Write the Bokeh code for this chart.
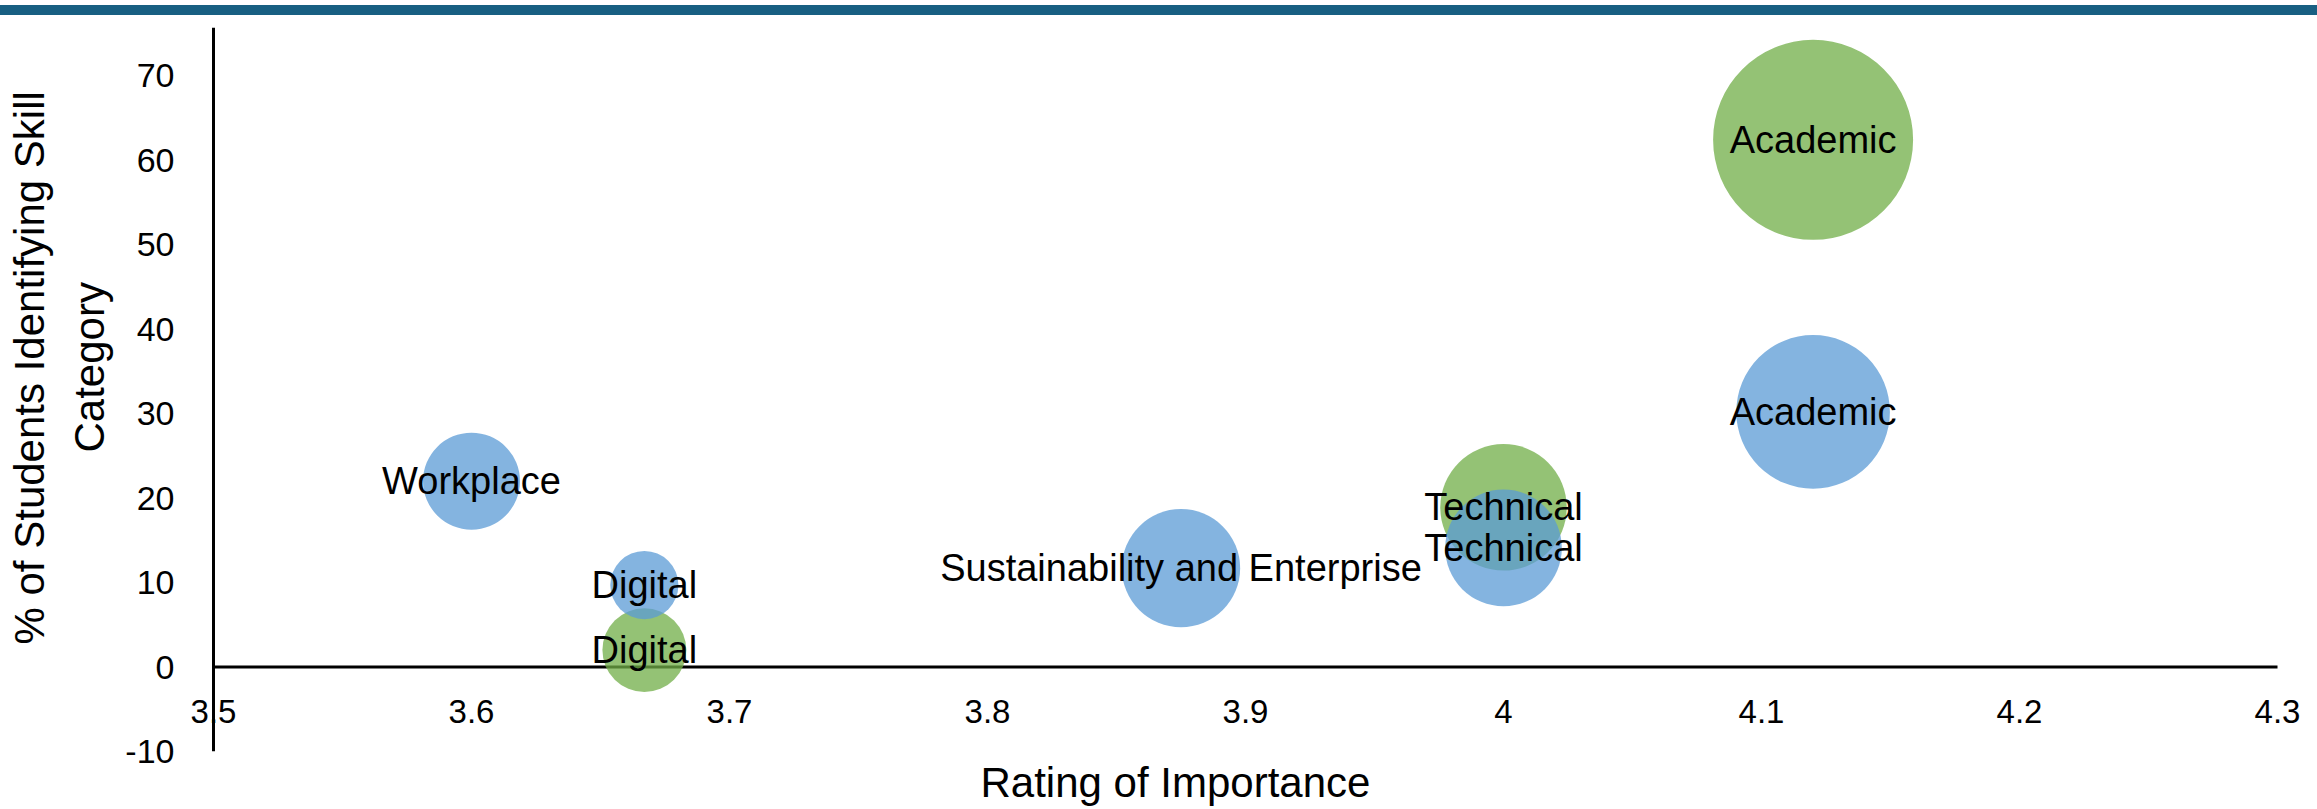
from bokeh.plotting import figure
from bokeh.models import ColumnDataSource, FixedTicker, Range1d, Div, Title
from bokeh.layouts import column
from bokeh.embed import file_html
from bokeh.resources import INLINE
from bokeh.core.properties import value

# ---------------- data ----------------
blue_labels = ["Academic", "Technical", "Sustainability and Enterprise", "Workplace", "Digital"]
blue_rating = [4.12, 4.0, 3.875, 3.6, 3.667]
blue_pct = [30.2, 14.1, 11.7, 22.0, 9.7]
blue_size = [59.0, 34.0, 35.0, 23.5, 11.6]

green_labels = ["Academic", "Technical", "Digital"]
green_rating = [4.12, 4.0, 3.667]
green_pct = [62.4, 18.9, 2.0]
green_size = [100.0, 40.0, 17.6]

x_ticks = [3.5, 3.6, 3.7, 3.8, 3.9, 4.0, 4.1, 4.2, 4.3]
x_tick_labels = ["3.5", "3.6", "3.7", "3.8", "3.9", "4", "4.1", "4.2", "4.3"]
y_ticks = [-10, 0, 10, 20, 30, 40, 50, 60, 70]
y_tick_labels = ["-10", "0", "10", "20", "30", "40", "50", "60", "70"]
y_top = 75.7

x_title = "Rating of Importance"
y_title_lines = ["% of Students Identifying Skill", "Category"]

# ---------------- style ----------------
FONT = "Liberation Sans"
BLUE = "#5B9BD5"
GREEN = "#70AD47"
BAR = "#185F82"
W = 2317
BAR_H = 27
MAIN_H = 809 - BAR_H
LEFT = 190
BOTTOM = 58
PX_PER_X = 2580.0          # pixels per rating unit
AXIS_PX = 213 - LEFT       # axis line offset inside frame
MAX_D = 200.0              # diameter of the largest bubble in px
max_size = max(max(blue_size), max(green_size))


def diam(sizes):
    return [MAX_D * (s / max_size) ** 0.5 for s in sizes]


# ---------------- top bar ----------------
bar = Div(text='<div style="height:10px;margin-top:5px;width:%dpx;background:%s"></div>' % (W, BAR),
          width=W, height=BAR_H, margin=0)

# ---------------- main chart ----------------
x0 = x_ticks[0] - AXIS_PX / PX_PER_X
x1 = x_ticks[0] + (W - LEFT - AXIS_PX) / PX_PER_X
p = figure(width=W, height=MAIN_H,
           x_range=Range1d(x0, x1), y_range=Range1d(y_ticks[0], y_top),
           x_axis_location=None,
           output_backend="svg", toolbar_location=None,
           min_border_left=LEFT, min_border_right=0, min_border_top=0, min_border_bottom=BOTTOM)
p.frame_height = MAIN_H - BOTTOM
p.outline_line_color = None
p.grid.visible = False
p.background_fill_color = "white"

# y axis (tick labels only; line drawn at x = 3.5)
p.yaxis.ticker = FixedTicker(ticks=y_ticks)
p.yaxis.major_label_overrides = {t: s for t, s in zip(y_ticks, y_tick_labels)}
p.yaxis.axis_line_color = None
p.yaxis.major_tick_line_color = None
p.yaxis.minor_tick_line_color = None
p.yaxis.major_label_standoff = 10
p.yaxis.major_label_text_font = FONT
p.yaxis.major_label_text_font_size = "34px"
p.yaxis.major_label_text_color = "black"

# y axis title: two lines, stacked outward from the axis
p.add_layout(Title(text=y_title_lines[1], align="left", offset=299, standoff=20,
                   text_font=FONT, text_font_size="42px", text_font_style="normal",
                   text_color="black"), "left")
p.add_layout(Title(text=y_title_lines[0], align="left", offset=107, standoff=2,
                   text_font=FONT, text_font_size="42px", text_font_style="normal",
                   text_color="black"), "left")

# x axis title
p.add_layout(Title(text=x_title, align="left", offset=790, standoff=10,
                   text_font=FONT, text_font_size="42px", text_font_style="normal",
                   text_color="black"), "below")

# axis lines crossing at (3.5, 0)
p.segment(x0=[x_ticks[0]], y0=[0], x1=[x_ticks[-1]], y1=[0], line_color="black", line_width=3)
p.segment(x0=[x_ticks[0]], y0=[y_ticks[0]], x1=[x_ticks[0]], y1=[y_top], line_color="black", line_width=3)

# bubbles: green series below, blue on top
gsrc = ColumnDataSource(dict(x=green_rating, y=green_pct, d=diam(green_size), t=green_labels))
bsrc = ColumnDataSource(dict(x=blue_rating, y=blue_pct, d=diam(blue_size), t=blue_labels))
p.scatter("x", "y", size="d", source=gsrc, fill_color=GREEN, fill_alpha=0.75, line_color=None)
p.scatter("x", "y", size="d", source=bsrc, fill_color=BLUE, fill_alpha=0.75, line_color=None)

# x tick labels just below the zero line
p.text(x=x_ticks, y=[0] * len(x_ticks), text=x_tick_labels, text_font=value(FONT),
       text_font_size="33px", text_align="center", text_baseline="top", y_offset=33,
       text_color="black")

# bubble labels
for src in (gsrc, bsrc):
    p.text("x", "y", text="t", source=src, text_font=value(FONT), text_font_size="38px",
           text_align="center", text_baseline="middle", text_color="black")

layout = column(bar, p, spacing=0)
open("out.html", "w").write(file_html(layout, INLINE))
